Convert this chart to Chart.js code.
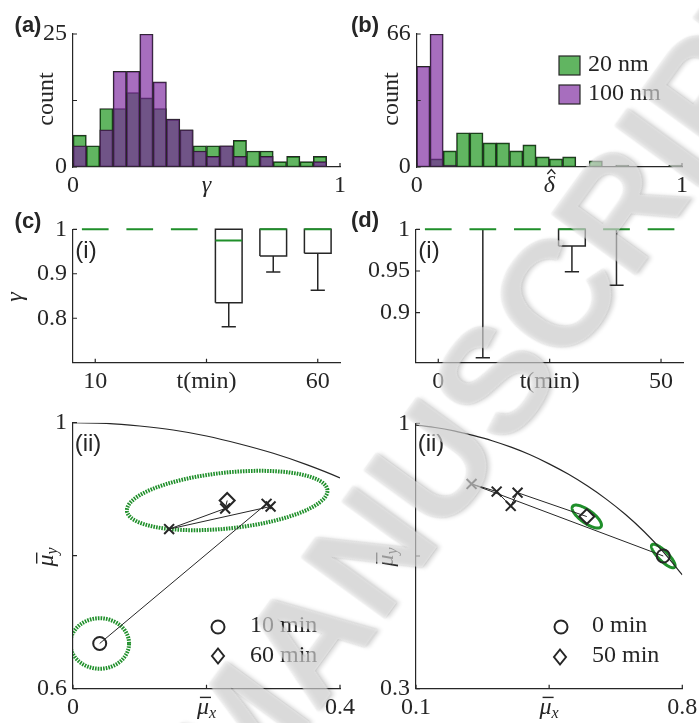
<!DOCTYPE html>
<html>
<head>
<meta charset="utf-8">
<title>gamma / delta statistics</title>
<script src="https://cdn.jsdelivr.net/npm/chart.js@4.4.1/dist/chart.umd.min.js"></script>
<style>
  body { margin: 0; background: #fff; }
  #fig { position: relative; width: 699px; height: 723px; overflow: hidden; }
  #fig canvas { position: absolute; }
  #wm {
    position: absolute; left: 494px; top: 380px;
    transform: translate(-50%, -50%) rotate(-54deg);
    font: bold 150px 'Liberation Sans', Arial, sans-serif; line-height: 1; white-space: nowrap;
    color: rgba(255, 255, 255, 0.55);
    text-shadow: 0 0 2px rgba(0, 0, 0, 0.2), 2px 3px 4px rgba(0, 0, 0, 0.16);
    pointer-events: none;
  }
</style>
</head>
<body>
<div id="fig">
  <canvas id="histGamma" width="360" height="200" style="left:0;top:0"></canvas>
  <canvas id="histDelta" width="349" height="200" style="left:350px;top:0"></canvas>
  <canvas id="boxC" width="360" height="200" style="left:0;top:200px"></canvas>
  <canvas id="boxD" width="349" height="200" style="left:350px;top:200px"></canvas>
  <canvas id="muC" width="360" height="323" style="left:0;top:400px"></canvas>
  <canvas id="muD" width="349" height="323" style="left:350px;top:400px"></canvas>
  <div id="wm">MANUSCRIPT</div>
</div>
<script>
// histogram bins (width 0.05)
var binCenters = [0.025, 0.075, 0.125, 0.175, 0.225, 0.275, 0.325, 0.375, 0.425, 0.475,
                  0.525, 0.575, 0.625, 0.675, 0.725, 0.775, 0.825, 0.875, 0.925, 0.975];
var gammaCount20  = [6, 4, 11, 11, 14, 13, 11, 9, 7, 4, 4, 4, 5, 3, 3, 1, 2, 1, 2, 0];
var gammaCount100 = [4, 0, 7, 18, 18, 25, 16, 9, 7, 3, 2, 4, 2, 0, 2, 0, 0, 0, 1, 0];
var deltaCount20  = [0, 4, 8, 17, 17, 12, 12, 8, 11, 5, 4, 5, 0, 3, 0, 1, 0, 0, 0, 1];
var deltaCount100 = [50, 66, 1, 0, 0, 0, 0, 0, 0, 0, 0, 0, 0, 0, 0, 0, 0, 0, 0, 0];

// box plots of gamma vs time
var tC   = [10, 20, 30, 40, 50, 60];
var q1C  = [1, 1, 1, 0.835, 0.940, 0.946];
var medC = [1, 1, 1, 0.975, 1, 1];
var q3C  = [1, 1, 1, 1, 1, 1];
var loC  = [1, 1, 1, 0.781, 0.904, 0.863];

var tD   = [0, 10, 20, 30, 40, 50];
var q1D  = [1, 1, 1, 0.980, 1, 1];
var medD = [1, 1, 1, 1, 1, 1];
var q3D  = [1, 1, 1, 1, 1, 1];
var loD  = [1, 0.846, 1, 0.949, 0.933, 1];

// mean trajectories
var muxC = [0.040, 0.290, 0.296, 0.144, 0.228, 0.231];
var muyC = [0.668, 0.878, 0.874, 0.840, 0.871, 0.883];
var muxD = [0.750, 0.246, 0.312, 0.349, 0.367, 0.549];
var muyD = [0.650, 0.840, 0.820, 0.782, 0.817, 0.754];

// spread ellipses: centre, semi-axes, tilt (deg)
var ellCxC = [0.040, 0.231], ellCyC = [0.668, 0.883];
var ellAC = [0.044, 0.151], ellBC = [0.038, 0.042], ellAngC = [0, 6];
var ellCxD = [0.750, 0.549], ellCyD = [0.650, 0.754];
var ellAD = [0.042, 0.046], ellBD = [0.013, 0.017], ellAngD = [-45, -36];

// boundary curve
var boundX = [0, 0.05, 0.1, 0.15, 0.2, 0.25, 0.3, 0.35, 0.4, 0.45, 0.5, 0.55, 0.6, 0.65, 0.7, 0.75, 0.8];
var boundY = [1, 0.999, 0.995, 0.989, 0.980, 0.968, 0.954, 0.937, 0.917, 0.893, 0.866, 0.835, 0.800, 0.760, 0.714, 0.661, 0.600];

// ticks
var gammaTicks = [0, 0.5, 1], gammaTickLabels = ['0', 'γ', '1'];
var cntTicksA = [0, 12.5, 25], cntLabelsA = ['0', '', '25'];
var deltaTicks = [0, 0.5, 1], deltaTickLabels = ['0', 'δ̂', '1'];
var cntTicksB = [0, 33, 66], cntLabelsB = ['0', '', '66'];
var tTicksC = [10, 35, 60], tLabelsC = ['10', 't(min)', '60'];
var gTicksC = [0.8, 0.9, 1], gLabelsC = ['0.8', '0.9', '1'];
var tTicksD = [0, 25, 50], tLabelsD = ['0', 't(min)', '50'];
var gTicksD = [0.9, 0.95, 1], gLabelsD = ['0.9', '0.95', '1'];
var mxTicksC = [0, 0.2, 0.4], mxLabelsC = ['0', 'μ̄x', '0.4'];
var myTicksC = [0.6, 0.8, 1], myLabelsC = ['0.6', '', '1'];
var mxTicksD = [0.1, 0.45, 0.8], mxLabelsD = ['0.1', 'μ̄x', '0.8'];
var myTicksD = [0.3, 0.65, 1], myLabelsD = ['0.3', '', '1'];

var INK = '#262626';
var GREEN = 'rgba(0, 135, 0, 0.62)';
var PURPLE = 'rgba(120, 32, 155, 0.65)';
var LINE_GREEN = '#1f8f2a';

Chart.defaults.animation = false;

var LABEL = "bold 22px 'Liberation Sans'", ROMAN = "24px 'Liberation Sans'";
var ITAL = "italic 24px 'Liberation Serif'", SUB = "italic 16px 'Liberation Serif'", TXT = "24px 'Liberation Serif'";

function lin(min, max, ticks, isX, size) {
  return {
    type: 'linear', min: min, max: max, offset: false,
    grid: { display: false, drawTicks: false },
    border: { display: true, color: INK, width: 1.2 },
    afterBuildTicks: function (s) { s.ticks = ticks.map(function (v) { return { value: v }; }); },
    afterFit: function (s) { if (isX) s.height = size; else s.width = size; },
    ticks: { display: false }
  };
}

// draws a label, with an optional accent (bar / hat) and subscript
function drawLabel(ctx, s, x, y, align, rot) {
  var m = /^([γδμ])(\u0302|\u0304)?(.*)$/.exec(s);
  ctx.save();
  ctx.translate(x, y);
  if (rot) ctx.rotate(rot * Math.PI / 180);
  ctx.fillStyle = INK; ctx.strokeStyle = INK;
  ctx.textBaseline = 'middle'; ctx.textAlign = 'left';
  if (!m) {
    ctx.font = TXT;
    var w = ctx.measureText(s).width;
    ctx.fillText(s, align === 'right' ? -w : (align === 'left' ? 0 : -w / 2), 0);
  } else {
    ctx.font = ITAL;
    var w1 = ctx.measureText(m[1]).width;
    ctx.font = SUB;
    var w2 = m[3] ? ctx.measureText(m[3]).width : 0;
    var x0 = -(w1 + w2) / 2;
    ctx.font = ITAL;
    ctx.fillText(m[1], x0, 0);
    if (m[2] === '\u0304') ctx.fillRect(x0 + 3, -11, w1 - 1, 1.4);
    if (m[2] === '\u0302') {
      var c = x0 + w1 / 2 + 2;
      ctx.lineWidth = 1.3;
      ctx.beginPath(); ctx.moveTo(c - 4, -12); ctx.lineTo(c, -16.5); ctx.lineTo(c + 4, -12); ctx.stroke();
    }
    if (m[3]) { ctx.font = SUB; ctx.fillText(m[3], x0 + w1, 6); }
  }
  ctx.restore();
}

// MATLAB-style axes: inward tick marks plus tick labels
var axesDeco = {
  id: 'axesDeco',
  afterDatasetsDraw: function (chart, args, o) {
    var ctx = chart.ctx, a = chart.chartArea, sx = chart.scales.x, sy = chart.scales.y;
    ctx.save();
    ctx.strokeStyle = INK; ctx.lineWidth = 1.2;
    ctx.beginPath();
    sx.ticks.forEach(function (t) {
      var p = sx.getPixelForValue(t.value);
      ctx.moveTo(p, a.bottom); ctx.lineTo(p, a.bottom - 4);
    });
    sy.ticks.forEach(function (t) {
      var p = sy.getPixelForValue(t.value);
      ctx.moveTo(a.left, p); ctx.lineTo(a.left + 4, p);
    });
    ctx.stroke();
    ctx.restore();
    sx.ticks.forEach(function (t, i) {
      if (o.xText[i]) drawLabel(ctx, o.xText[i], sx.getPixelForValue(t.value), a.bottom + 19, 'center');
    });
    sy.ticks.forEach(function (t, i) {
      if (o.yText[i]) drawLabel(ctx, o.yText[i], a.left - 6, sy.getPixelForValue(t.value), 'right');
    });
  }
};

// panel letters, axis names and hand-made keys
var decor = {
  id: 'decor',
  afterDraw: function (chart, args, o) {
    var ctx = chart.ctx;
    (o.keys || []).forEach(function (k) {
      ctx.save();
      ctx.strokeStyle = INK; ctx.lineWidth = k.lw || 1.2;
      if (k.kind === 'box') {
        ctx.fillStyle = k.color;
        ctx.fillRect(k.x, k.y, k.w, k.h);
        ctx.strokeRect(k.x, k.y, k.w, k.h);
      } else if (k.kind === 'circle') {
        ctx.beginPath(); ctx.arc(k.x, k.y, k.r, 0, 2 * Math.PI); ctx.stroke();
      } else if (k.kind === 'diamond') {
        ctx.beginPath();
        ctx.moveTo(k.x, k.y - k.r); ctx.lineTo(k.x + k.r * 0.8, k.y);
        ctx.lineTo(k.x, k.y + k.r); ctx.lineTo(k.x - k.r * 0.8, k.y);
        ctx.closePath(); ctx.stroke();
      }
      ctx.restore();
    });
    (o.items || []).forEach(function (it) {
      if (it.font) {
        ctx.save();
        ctx.fillStyle = INK; ctx.font = it.font;
        ctx.textBaseline = 'middle'; ctx.textAlign = it.align || 'center';
        ctx.fillText(it.t, it.x, it.y);
        ctx.restore();
      } else {
        drawLabel(ctx, it.t, it.x, it.y, it.align, it.rot);
      }
    });
  }
};

var ellipses = {
  id: 'ellipses',
  beforeDatasetsDraw: function (chart, args, o) {
    var ctx = chart.ctx, a = chart.chartArea, sx = chart.scales.x, sy = chart.scales.y;
    ctx.save();
    ctx.beginPath(); ctx.rect(a.left, a.top, a.right - a.left, a.bottom - a.top); ctx.clip();
    ctx.strokeStyle = LINE_GREEN; ctx.lineWidth = o.width; ctx.setLineDash(o.dash || []);
    o.cx.forEach(function (cx, i) {
      var th = o.ang[i] * Math.PI / 180;
      ctx.beginPath();
      for (var k = 0; k <= 160; k++) {
        var f = k / 160 * 2 * Math.PI;
        var u = o.a[i] * Math.cos(f), v = o.b[i] * Math.sin(f);
        var px = sx.getPixelForValue(cx + u * Math.cos(th) - v * Math.sin(th));
        var py = sy.getPixelForValue(o.cy[i] + u * Math.sin(th) + v * Math.cos(th));
        if (k) ctx.lineTo(px, py); else ctx.moveTo(px, py);
      }
      ctx.closePath(); ctx.stroke();
    });
    ctx.restore();
  }
};

function histogram(id, c20, c100, yMax, yT, yL, xT, xL, yW, pad, decorOpts) {
  return new Chart(document.getElementById(id), {
    type: 'bar',
    data: {
      labels: binCenters,
      datasets: [
        { label: '20 nm', data: c20, backgroundColor: GREEN, borderColor: INK, borderWidth: 1, borderSkipped: false, order: 2 },
        { label: '100 nm', data: c100, backgroundColor: PURPLE, borderColor: INK, borderWidth: 1, borderSkipped: false, order: 1 }
      ]
    },
    options: {
      responsive: false,
      datasets: { bar: { grouped: false, barPercentage: 1, categoryPercentage: 1 } },
      layout: { padding: pad },
      plugins: { legend: { display: false }, tooltip: { enabled: false }, decor: decorOpts,
                 axesDeco: { xText: xL, yText: yL } },
      scales: { x: lin(0, 1, xT, true, 33), y: lin(0, yMax, yT, false, yW) }
    },
    plugins: [axesDeco, decor]
  });
}

histogram('histGamma', gammaCount20, gammaCount100, 25, cntTicksA, cntLabelsA, gammaTicks, gammaTickLabels, 73,
  { left: 0, right: 20, top: 34, bottom: 0 },
  { items: [
    { t: '(a)', x: 28, y: 26, font: LABEL },
    { t: 'count', x: 47, y: 99, rot: -90 }
  ] });

histogram('histDelta', deltaCount20, deltaCount100, 66, cntTicksB, cntLabelsB, deltaTicks, deltaTickLabels, 66.7,
  { left: 0, right: 17, top: 34, bottom: 0 },
  { keys: [
    { kind: 'box', x: 209, y: 56, w: 21, h: 19, color: GREEN },
    { kind: 'box', x: 209, y: 85, w: 21, h: 19, color: PURPLE }
  ], items: [
    { t: '(b)', x: 15, y: 26, font: LABEL },
    { t: 'count', x: 42, y: 99, rot: -90 },
    { t: '20 nm', x: 238, y: 65, align: 'left' },
    { t: '100 nm', x: 238, y: 94, align: 'left' }
  ] });

var GAP = { x: null, y: null };
function boxSets(t, q1, q3, med, lo) {
  var box = [], wh = [], md = [];
  t.forEach(function (ti, i) {
    if (q3[i] > q1[i]) {
      box.push({ x: ti - 3, y: q1[i] }, { x: ti + 3, y: q1[i] }, { x: ti + 3, y: q3[i] },
               { x: ti - 3, y: q3[i] }, { x: ti - 3, y: q1[i] }, GAP);
    }
    if (lo[i] < q1[i]) {
      wh.push({ x: ti, y: q1[i] }, { x: ti, y: lo[i] }, GAP,
              { x: ti - 1.6, y: lo[i] }, { x: ti + 1.6, y: lo[i] }, GAP);
    }
    md.push({ x: ti - 3, y: med[i] }, { x: ti + 3, y: med[i] }, GAP);
  });
  var base = { showLine: true, pointRadius: 0, borderColor: INK, borderWidth: 1.5, clip: false };
  return [
    { data: md, borderColor: LINE_GREEN, order: 1, showLine: true, pointRadius: 0, borderWidth: 2, clip: false },
    Object.assign({ data: box, order: 2 }, base),
    Object.assign({ data: wh, order: 3 }, base)
  ];
}

function boxChart(id, sets, xMin, xMax, xT, xL, yMin, yT, yL, yW, pad, decorOpts) {
  return new Chart(document.getElementById(id), {
    type: 'scatter',
    data: { datasets: sets },
    options: {
      responsive: false,
      layout: { padding: pad },
      plugins: { legend: { display: false }, tooltip: { enabled: false }, decor: decorOpts,
                 axesDeco: { xText: xL, yText: yL } },
      scales: { x: lin(xMin, xMax, xT, true, 37.3), y: lin(yMin, 1, yT, false, yW) }
    },
    plugins: [axesDeco, decor]
  });
}

boxChart('boxC', boxSets(tC, q1C, q3C, medC, loC), 5, 65, tTicksC, tLabelsC, 0.7, gTicksC, gLabelsC, 73,
  { left: 0, right: 20, top: 29.3, bottom: 0 },
  { items: [
    { t: '(c)', x: 28, y: 22, font: LABEL },
    { t: '(i)', x: 86, y: 51, font: ROMAN },
    { t: 'γ', x: 16, y: 97, rot: -90 }
  ] });

boxChart('boxD', boxSets(tD, q1D, q3D, medD, loD), -5, 55, tTicksD, tLabelsD, 0.84, gTicksD, gLabelsD, 66,
  { left: 0, right: 15.7, top: 29.3, bottom: 0 },
  { items: [
    { t: '(d)', x: 15, y: 21, font: LABEL },
    { t: '(i)', x: 79, y: 51, font: ROMAN }
  ] });

function trajChart(id, mx, my, ell, xMin, xMax, xT, xL, yMin, yT, yL, yW, pad, decorOpts) {
  var last = mx.length - 1;
  var pts = mx.map(function (v, i) { return { x: v, y: my[i] }; });
  var curve = boundX.map(function (v, i) { return { x: v, y: boundY[i] }; });
  return new Chart(document.getElementById(id), {
    type: 'scatter',
    data: {
      datasets: [
        { data: pts, showLine: true, borderColor: INK, borderWidth: 1, clip: false,
          pointStyle: mx.map(function (v, i) { return i === 0 ? 'circle' : (i === last ? 'rectRot' : 'crossRot'); }),
          pointRadius: mx.map(function (v, i) { return i === 0 ? 6.5 : (i === last ? 7.5 : 7); }),
          pointBorderWidth: 2, pointBorderColor: INK, pointBackgroundColor: 'rgba(0,0,0,0)', order: 1 },
        { data: curve, showLine: true, borderColor: INK, borderWidth: 1.2, pointRadius: 0,
          cubicInterpolationMode: 'monotone', order: 2 }
      ]
    },
    options: {
      responsive: false,
      layout: { padding: pad },
      plugins: { legend: { display: false }, tooltip: { enabled: false }, decor: decorOpts, ellipses: ell,
                 axesDeco: { xText: xL, yText: yL } },
      scales: { x: lin(xMin, xMax, xT, true, 34.3), y: lin(yMin, 1, yT, false, yW) }
    },
    plugins: [ellipses, axesDeco, decor]
  });
}

trajChart('muC', muxC, muyC,
  { cx: ellCxC, cy: ellCyC, a: ellAC, b: ellBC, ang: ellAngC, width: 4, dash: [1.6, 1.1] },
  0, 0.4, mxTicksC, mxLabelsC, 0.6, myTicksC, myLabelsC, 73,
  { left: 0, right: 20, top: 22.7, bottom: 0 },
  { keys: [
    { kind: 'circle', x: 218, y: 227, r: 6.5, lw: 2 },
    { kind: 'diamond', x: 218, y: 256, r: 7.5, lw: 2 }
  ], items: [
    { t: '(ii)', x: 88, y: 44, font: ROMAN },
    { t: 'μ̄y', x: 47, y: 157, rot: -90 },
    { t: '10 min', x: 250, y: 226, align: 'left' },
    { t: '60 min', x: 250, y: 256, align: 'left' }
  ] });

trajChart('muD', muxD, muyD,
  { cx: ellCxD, cy: ellCyD, a: ellAD, b: ellBD, ang: ellAngD, width: 3 },
  0.1, 0.8, mxTicksD, mxLabelsD, 0.3, myTicksD, myLabelsD, 66,
  { left: 0, right: 16.7, top: 23.3, bottom: 0 },
  { keys: [
    { kind: 'circle', x: 211, y: 227, r: 6.5, lw: 2 },
    { kind: 'diamond', x: 210, y: 257, r: 7.5, lw: 2 }
  ], items: [
    { t: '(ii)', x: 81, y: 44, font: ROMAN },
    { t: 'μ̄y', x: 37, y: 157, rot: -90 },
    { t: '0 min', x: 242, y: 226, align: 'left' },
    { t: '50 min', x: 242, y: 256, align: 'left' }
  ] });
</script>
</body>
</html>
